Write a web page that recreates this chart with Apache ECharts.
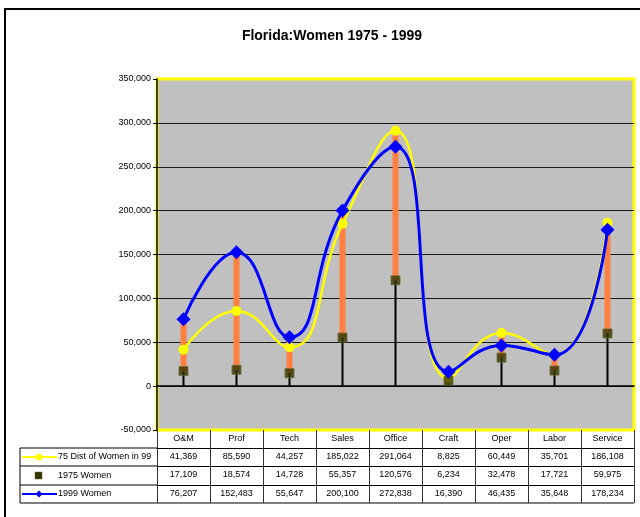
<!DOCTYPE html>
<html>
<head>
<meta charset="utf-8">
<script src="https://cdn.jsdelivr.net/npm/echarts@6/dist/echarts.min.js"></script>
<style>
  html, body { margin: 0; padding: 0; background: #fff; }
  #chart { width: 640px; height: 517px; }
</style>
</head>
<body>
<div id="chart"></div>
<script>
// Occupational categories
const categories = ['O&M', 'Prof', 'Tech', 'Sales', 'Office', 'Craft', 'Oper', 'Labor', 'Service'];
// Series values (number of women)
const dist75in99 = [41369, 85590, 44257, 185022, 291064, 8825, 60449, 35701, 186108];
const women1975 = [17109, 18574, 14728, 55357, 120576, 6234, 32478, 17721, 59975];
const women1999 = [76207, 152483, 55647, 200100, 272838, 16390, 46435, 35648, 178234];
const seriesNames = ['75 Dist of Women in 99', '1975 Women', '1999 Women'];
// Value axis range
const yMin = -50000;
const yMax = 350000;
const yStep = 50000;

const FONT = 'Liberation Sans, Arial, sans-serif';
const fmt = v => v.toLocaleString('en-US');

// low/high per category for the high-low bars
const hiLow = categories.map((c, i) => {
  const vals = [dist75in99[i], women1975[i], women1999[i]];
  return [i, Math.min(...vals), Math.max(...vals)];
});

// grid geometry
const G = { left: 157, right: 6, top: 79, bottom: 87 };
const plotBottom = 517 - G.bottom;   // 430
const plotRight = 640 - G.right;     // 634
const rowTops = [448, 466, 485, 503];

// split line colours: hide the ones on the plot border
const nLines = Math.round((yMax - yMin) / yStep) + 1;
const splitColors = [];
for (let k = 0; k < nLines; k++) splitColors.push(k === 0 || k === nLines - 1 ? 'rgba(0,0,0,0)' : '#1a1a1a');

function tableAxis(data, offset, tickLen, showLine) {
  return {
    type: 'category',
    gridIndex: 0,
    position: 'bottom',
    offset: offset,
    data: data,
    boundaryGap: true,
    axisLine: { show: showLine, onZero: false, lineStyle: { color: '#000', width: 1 } },
    axisTick: { show: true, length: tickLen, interval: 0, lineStyle: { color: '#333', width: 1 } },
    axisLabel: { show: true, interval: 0, margin: 4, fontSize: 9, color: '#000', fontFamily: FONT },
    splitLine: { show: false }
  };
}

const chart = echarts.init(document.getElementById('chart'), null, { renderer: 'canvas' });

const option = {
  animation: false,
  backgroundColor: '#fff',
  title: {
    text: 'Florida:Women 1975 - 1999',
    left: 327,
    top: 24,
    textAlign: 'center',
    textStyle: { fontFamily: FONT, fontSize: 14, fontWeight: 'bold', color: '#000' }
  },
  grid: {
    left: G.left, right: G.right, top: G.top, bottom: G.bottom,
    show: true, backgroundColor: '#C0C0C0', borderColor: '#FFFF00', borderWidth: 3
  },
  xAxis: [
    {
      type: 'category',
      data: categories,
      boundaryGap: true,
      axisLine: { show: true, onZero: true, lineStyle: { color: '#000', width: 1.5 } },
      axisTick: { show: false },
      axisLabel: { show: false },
      splitLine: { show: false }
    },
    tableAxis(categories, 0, 18, false),
    tableAxis(dist75in99.map(fmt), 18, 18, true),
    tableAxis(women1975.map(fmt), 36, 19, true),
    tableAxis(women1999.map(fmt), 55, 18, true)
  ],
  yAxis: {
    type: 'value',
    min: yMin, max: yMax, interval: yStep,
    axisLine: { show: true, onZero: false, lineStyle: { color: '#000', width: 1.5 } },
    axisTick: { show: true, length: 4, lineStyle: { color: '#000' } },
    axisLabel: { fontSize: 9, color: '#000', fontFamily: FONT, margin: 6, formatter: v => fmt(v) },
    splitLine: { show: true, lineStyle: { color: splitColors, width: 1 } }
  },
  series: [
    {
      type: 'custom',
      name: 'hilo',
      xAxisIndex: 0,
      data: hiLow,
      encode: { x: 0, y: [1, 2] },
      z: 1,
      renderItem: function (params, api) {
        const base = api.coord([api.value(0), 0]);
        const lo = api.coord([api.value(0), api.value(1)]);
        const hi = api.coord([api.value(0), api.value(2)]);
        return {
          type: 'group',
          children: [
            { type: 'line', shape: { x1: base[0], y1: base[1], x2: lo[0], y2: lo[1] },
              style: { stroke: '#000', lineWidth: 2 } },
            { type: 'rect', shape: { x: hi[0] - 3, y: hi[1], width: 6, height: lo[1] - hi[1] },
              style: { fill: '#FF8040' } }
          ]
        };
      }
    },
    {
      type: 'line',
      name: seriesNames[0],
      data: dist75in99,
      smooth: 0.5,
      z: 3,
      lineStyle: { color: '#FFFF00', width: 2.5 },
      itemStyle: { color: '#FFFF00' },
      symbol: 'circle',
      symbolSize: 10,
      showSymbol: true
    },
    {
      type: 'scatter',
      name: seriesNames[1],
      data: women1975,
      z: 4,
      symbol: 'rect',
      symbolSize: 9,
      itemStyle: { color: '#333300', borderColor: '#666633', borderWidth: 1 }
    },
    {
      type: 'line',
      name: seriesNames[2],
      data: women1999,
      smooth: 0.5,
      z: 5,
      lineStyle: { color: '#0000FF', width: 3 },
      itemStyle: { color: '#0000FF' },
      symbol: 'diamond',
      symbolSize: 14,
      showSymbol: true
    }
  ],
  graphic: {
    elements: [
      // outer frame
      { type: 'rect', shape: { x: 5, y: 9, width: 700, height: 600 },
        style: { fill: null, stroke: '#000', lineWidth: 2 }, z: 100, silent: true },
      // table: legend column lines
      ...rowTops.map(y => ({ type: 'line', shape: { x1: 20, y1: y, x2: G.left, y2: y },
        style: { stroke: '#000', lineWidth: 1 }, silent: true })),
      { type: 'line', shape: { x1: 20, y1: rowTops[0], x2: 20, y2: rowTops[3] },
        style: { stroke: '#000', lineWidth: 1 }, silent: true },
      { type: 'line', shape: { x1: G.left, y1: rowTops[3], x2: plotRight, y2: rowTops[3] },
        style: { stroke: '#000', lineWidth: 1 }, silent: true },
      // legend keys
      { type: 'line', shape: { x1: 22, y1: 457, x2: 57, y2: 457 },
        style: { stroke: '#FFFF00', lineWidth: 2 }, silent: true },
      { type: 'circle', shape: { cx: 39, cy: 457, r: 3.5 }, style: { fill: '#FFFF00' }, silent: true },
      { type: 'rect', shape: { x: 35, y: 472, width: 7, height: 7 },
        style: { fill: '#333300', stroke: '#666633', lineWidth: 0.5 }, silent: true },
      { type: 'line', shape: { x1: 22, y1: 494, x2: 57, y2: 494 },
        style: { stroke: '#0000FF', lineWidth: 2 }, silent: true },
      { type: 'polygon', shape: { points: [[39, 490.5], [42.5, 494], [39, 497.5], [35.5, 494]] },
        style: { fill: '#0000FF' }, silent: true },
      // legend labels
      ...seriesNames.map((n, k) => ({
        type: 'text', x: 58, y: [457, 475.5, 494][k],
        style: { text: n, fontSize: 9, fontFamily: FONT, fill: '#000', verticalAlign: 'middle', align: 'left' },
        silent: true
      }))
    ]
  }
};

chart.setOption(option);
</script>
</body>
</html>
